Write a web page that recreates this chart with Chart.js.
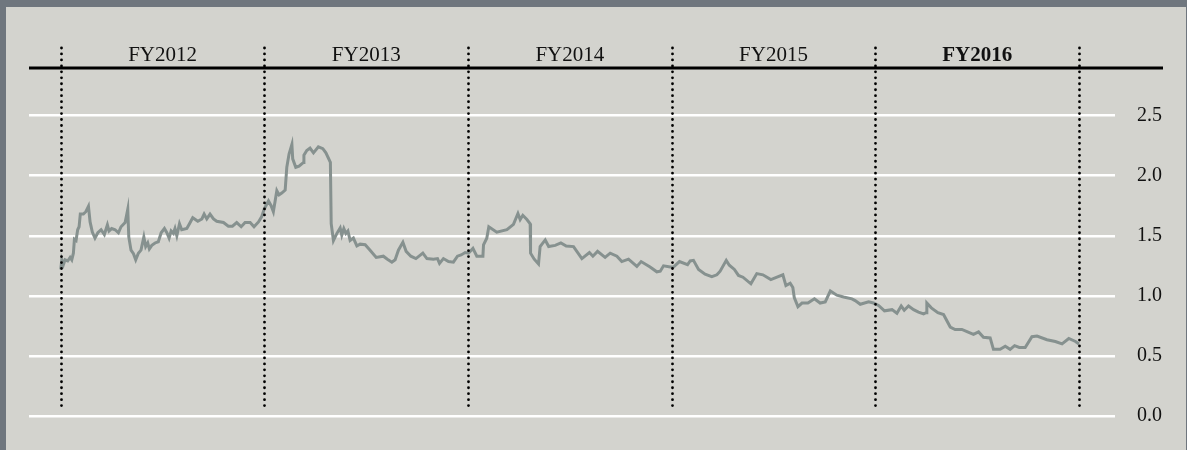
<!DOCTYPE html>
<html>
<head>
<meta charset="utf-8">
<script src="https://cdn.jsdelivr.net/npm/chart.js@4"></script>
<style>
    html, body { margin: 0; padding: 0; background: #6f767e; }
    #wrap { position: absolute; left: 6px; top: 7px; width: 1180px; height: 443px; background: #d3d3ce; }
</style>
</head>
<body>
<div id="wrap"><canvas id="myChart" width="1180" height="443"></canvas></div>
<script>
// fiscal year labels (one per year span)
const fiscalYears = ['FY2012', 'FY2013', 'FY2014', 'FY2015', 'FY2016'];
const boldYear = 'FY2016';

// y ticks on the right
const yTicks = [0, 0.5, 1.0, 1.5, 2.0, 2.5];

// time position, in years since start of FY2012
const timeYears = [
    0.000, 0.005, 0.013, 0.021, 0.034, 0.046, 0.054, 0.062, 0.067, 0.075, 0.083, 0.090, 0.096, 0.111, 0.123,
    0.136, 0.144, 0.155, 0.168, 0.182, 0.198, 0.214, 0.229, 0.237, 0.250, 0.267, 0.283, 0.296, 0.316, 0.329,
    0.334, 0.345, 0.357, 0.368, 0.381, 0.394, 0.408, 0.417, 0.427, 0.435, 0.447, 0.463, 0.479, 0.493, 0.509,
    0.521, 0.532, 0.542, 0.553, 0.561, 0.570, 0.583, 0.594, 0.619, 0.632, 0.648, 0.673, 0.693, 0.704, 0.717,
    0.733, 0.750, 0.766, 0.799, 0.823, 0.843, 0.864, 0.886, 0.905, 0.930, 0.949, 0.971, 0.987, 1.000, 1.020,
    1.033, 1.044, 1.061, 1.072, 1.085, 1.102, 1.110, 1.121, 1.135, 1.139, 1.154, 1.170, 1.192, 1.194, 1.208,
    1.224, 1.241, 1.265, 1.287, 1.302, 1.324, 1.328, 1.339, 1.356, 1.372, 1.380, 1.390, 1.400, 1.410, 1.421,
    1.437, 1.454, 1.470, 1.495, 1.519, 1.549, 1.584, 1.604, 1.626, 1.642, 1.658, 1.680, 1.696, 1.719, 1.744,
    1.778, 1.798, 1.830, 1.850, 1.860, 1.879, 1.904, 1.928, 1.948, 1.966, 1.986, 2.002, 2.024, 2.043, 2.073,
    2.076, 2.092, 2.102, 2.141, 2.191, 2.223, 2.245, 2.256, 2.269, 2.289, 2.305, 2.307, 2.325, 2.346, 2.354,
    2.379, 2.396, 2.428, 2.456, 2.482, 2.518, 2.559, 2.596, 2.613, 2.636, 2.673, 2.698, 2.731, 2.755, 2.788,
    2.829, 2.850, 2.894, 2.927, 2.944, 2.960, 2.993, 3.009, 3.038, 3.078, 3.091, 3.107, 3.132, 3.164, 3.197,
    3.222, 3.238, 3.268, 3.283, 3.308, 3.328, 3.350, 3.389, 3.418, 3.448, 3.487, 3.517, 3.546, 3.561, 3.582,
    3.595, 3.602, 3.620, 3.640, 3.669, 3.701, 3.729, 3.754, 3.779, 3.811, 3.844, 3.885, 3.901, 3.926, 3.967,
    3.991, 4.016, 4.045, 4.082, 4.106, 4.127, 4.142, 4.163, 4.188, 4.212, 4.237, 4.249, 4.253, 4.275, 4.307,
    4.335, 4.368, 4.392, 4.425, 4.453, 4.482, 4.507, 4.531, 4.564, 4.580, 4.613, 4.638, 4.662, 4.684, 4.707,
    4.736, 4.769, 4.794, 4.843, 4.884, 4.917, 4.950, 4.983, 5.000
];

const values = [
    1.22, 1.30, 1.26, 1.30, 1.29, 1.32, 1.30, 1.355, 1.47, 1.46, 1.55, 1.575, 1.68, 1.68, 1.70,
    1.745, 1.615, 1.53, 1.48, 1.525, 1.55, 1.51, 1.59, 1.54, 1.56, 1.55, 1.525, 1.575, 1.61, 1.72,
    1.49, 1.38, 1.35, 1.30, 1.355, 1.38, 1.49, 1.41, 1.44, 1.39, 1.42, 1.44, 1.45, 1.525, 1.56,
    1.525, 1.48, 1.54, 1.52, 1.56, 1.50, 1.60, 1.55, 1.56, 1.60, 1.65, 1.62, 1.64, 1.68, 1.64,
    1.68, 1.64, 1.62, 1.61, 1.58, 1.58, 1.61, 1.575, 1.61, 1.61, 1.575, 1.615, 1.66, 1.725, 1.79,
    1.75, 1.70, 1.875, 1.84, 1.855, 1.88, 2.07, 2.18, 2.26, 2.14, 2.07, 2.08, 2.11, 2.17, 2.21,
    2.23, 2.19, 2.24, 2.225, 2.19, 2.11, 1.60, 1.46, 1.52, 1.565, 1.505, 1.56, 1.52, 1.54, 1.46,
    1.48, 1.415, 1.43, 1.425, 1.38, 1.32, 1.33, 1.305, 1.28, 1.30, 1.38, 1.445, 1.37, 1.33, 1.31,
    1.355, 1.31, 1.305, 1.31, 1.27, 1.31, 1.285, 1.28, 1.33, 1.34, 1.36, 1.355, 1.395, 1.33, 1.33,
    1.425, 1.48, 1.575, 1.53, 1.55, 1.595, 1.685, 1.635, 1.67, 1.635, 1.60, 1.355, 1.305, 1.265, 1.41,
    1.465, 1.41, 1.42, 1.44, 1.415, 1.41, 1.31, 1.36, 1.33, 1.37, 1.32, 1.355, 1.33, 1.285, 1.305,
    1.245, 1.285, 1.24, 1.20, 1.205, 1.25, 1.24, 1.24, 1.285, 1.26, 1.29, 1.295, 1.22, 1.18, 1.16,
    1.175, 1.205, 1.295, 1.255, 1.22, 1.17, 1.155, 1.10, 1.185, 1.175, 1.135, 1.155, 1.175, 1.085, 1.105,
    1.07, 0.985, 0.91, 0.94, 0.94, 0.975, 0.94, 0.95, 1.04, 1.005, 0.99, 0.975, 0.96, 0.93, 0.95,
    0.94, 0.92, 0.875, 0.885, 0.855, 0.915, 0.88, 0.915, 0.885, 0.865, 0.85, 0.86, 0.94, 0.90, 0.86,
    0.845, 0.74, 0.72, 0.72, 0.70, 0.68, 0.70, 0.655, 0.65, 0.555, 0.555, 0.58, 0.555, 0.585, 0.57,
    0.57, 0.66, 0.665, 0.635, 0.62, 0.60, 0.645, 0.62, 0.60
];

const points = timeYears.map((t, i) => ({ x: t, y: values[i] }));

// dotted year boundaries, black rule and FY labels
const yearFrame = {
    id: 'yearFrame',
    afterDraw(chart) {
        const ctx = chart.ctx;
        const area = chart.chartArea;
        const x = chart.scales.x;

        ctx.save();
        ctx.strokeStyle = '#000';
        ctx.lineWidth = 3;
        ctx.beginPath();
        ctx.moveTo(area.left, area.top);
        ctx.lineTo(area.right + 48, area.top);
        ctx.stroke();

        ctx.lineWidth = 2.8;
        ctx.lineCap = 'round';
        ctx.setLineDash([0.01, 5.95]);
        for (let i = 0; i <= fiscalYears.length; i++) {
            const px = Math.round(x.getPixelForValue(i)) + 0.5;
            ctx.beginPath();
            ctx.moveTo(px, area.top - 20);
            ctx.lineTo(px, area.bottom - 9);
            ctx.stroke();
        }
        ctx.setLineDash([]);

        ctx.fillStyle = '#111';
        ctx.textAlign = 'center';
        ctx.textBaseline = 'alphabetic';
        fiscalYears.forEach((label, i) => {
            const weight = label === boldYear ? 'bold ' : '';
            ctx.font = weight + '21px "Liberation Serif", serif';
            ctx.fillText(label, x.getPixelForValue(i + 0.5), area.top - 7);
        });
        ctx.restore();
    }
};

const ctx = document.getElementById('myChart').getContext('2d');

window.myChart = new Chart(ctx, {
    type: 'line',
    data: {
        datasets: [{
            data: points,
            borderColor: '#86918f',
            borderWidth: 3,
            pointRadius: 0,
            tension: 0,
            fill: false
        }]
    },
    options: {
        responsive: false,
        animation: false,
        layout: {
            padding: { left: 23, top: 61, bottom: 31, right: 0 }
        },
        scales: {
            x: {
                type: 'linear',
                display: false,
                min: -0.156,
                max: 5.177
            },
            y: {
                position: 'right',
                min: 0,
                max: 2.896,
                afterBuildTicks: scale => {
                    scale.ticks = yTicks.map(v => ({ value: v }));
                },
                afterFit: scale => {
                    scale.width = 71;
                },
                grid: {
                    color: '#ffffff',
                    lineWidth: 2.5,
                    drawTicks: false
                },
                border: { display: false },
                ticks: {
                    padding: 22,
                    color: '#111',
                    font: { family: '"Liberation Serif", serif', size: 20 },
                    callback: v => v.toFixed(1)
                }
            }
        },
        plugins: {
            legend: { display: false },
            tooltip: { enabled: false }
        }
    },
    plugins: [yearFrame]
});
</script>
</body>
</html>
